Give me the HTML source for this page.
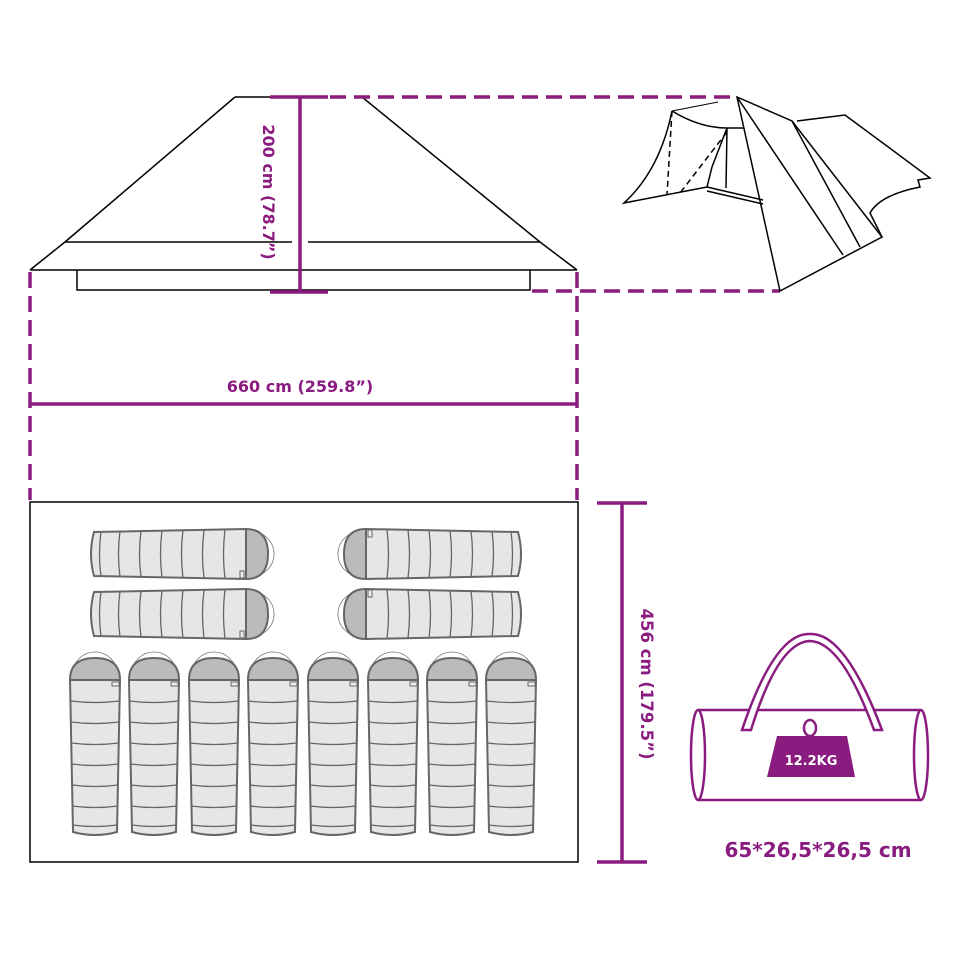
<!DOCTYPE html>
<html><head><meta charset="utf-8"><style>html,body{margin:0;padding:0;background:#fff}svg{display:block}</style></head>
<body>
<svg width="960" height="960" viewBox="0 0 960 960" xmlns="http://www.w3.org/2000/svg">
<defs>
<g id="bag">
  <path d="M3,26 A23,24 0 0 1 49,26" fill="none" stroke="#777" stroke-width="0.8" transform="translate(0,-4)"/>
  <path d="M1,26 Q1,4 26,4 Q51,4 51,26 Z" fill="#bbb" stroke="#666" stroke-width="2"/>
  <path d="M1,26 L4,178 Q26,184 48,178 L51,26 Z" fill="#e6e6e6" stroke="#666" stroke-width="2"/>
  <g fill="none" stroke="#666" stroke-width="1.3">
    <path d="M1.5,47 Q26,50 50.5,47"/><path d="M2,68 Q26,71 50,68"/><path d="M2,89 Q26,92 50,89"/>
    <path d="M2.5,110 Q26,113 49.5,110"/><path d="M3,131 Q26,134 49,131"/><path d="M3,152 Q26,155 49,152"/>
    <path d="M3.5,171 Q26,174 48.5,171"/>
  </g>
  <rect x="43" y="28" width="7" height="4" fill="#eee" stroke="#666" stroke-width="1"/>
</g>
</defs>
<g fill="none" stroke="#000" stroke-width="1.5">
  <path d="M235,97 L270,97 M235,97 L65,242 M362,97 L540,242 M65,242 L292,242 M308,242 L540,242 M65,242 L30,270 M540,242 L577,270 M30,270 L577,270"/>
  <path d="M77,270 L77,290 L530,290 L530,270"/>
  <rect x="30" y="502" width="548" height="360"/>
</g>
<g fill="none" stroke="#8a1b7f" stroke-width="3.5">
  <path d="M300,97 L300,292 M270,97 L328,97 M270,292 L328,292"/>
  <path d="M30,404 L577,404"/>
  <path d="M622,503 L622,862 M597,503 L647,503 M597,862 L647,862"/>
  <g stroke-dasharray="16,8">
    <path d="M330,97 L738,97"/>
    <path d="M532,291 L780,291"/>
    <path d="M30,272 L30,500 M577,272 L577,500"/>
  </g>
</g>
<g font-family="'DejaVu Sans','Liberation Sans',sans-serif" font-weight="bold" fill="#8a1b7f">
  <text x="300" y="392" font-size="16" text-anchor="middle">660 cm (259.8”)</text>
  <text transform="translate(263,192) rotate(90)" font-size="16" text-anchor="middle">200 cm (78.7”)</text>
  <text transform="translate(641,684) rotate(90)" font-size="16.5" text-anchor="middle">456 cm (179.5”)</text>
  <text x="818" y="857" font-size="20" text-anchor="middle">65*26,5*26,5 cm</text>
</g>
<g fill="none" stroke="#000" stroke-width="1.5">
  <path d="M672,111 Q660,170 624,203 L707,187"/>
  <path d="M672,111 L718,102" stroke-width="1"/>
  <path d="M672,111 Q700,128 727,128 L744,128"/>
  <path d="M727,128 L726,188"/>
  <path d="M727,128 L712,167 L707,187"/>
  <path d="M707,187 L763,200 M707,191 L763,204"/>
  <path d="M672,111 L667,195 M727,132 L680,193" stroke-dasharray="6,4"/>
  <path d="M737,97 L780,291 L882,237 L792,121 Z"/>
  <path d="M737,97 L843,255 M792,121 L860,247"/>
  <path d="M797,121 L845,115 L930,178 L918,180 L920,187 Q880,195 870,213 L882,237"/>
</g>
<use href="#bag" transform="translate(272,528) rotate(90)"/>
<use href="#bag" transform="translate(272,588) rotate(90)"/>
<use href="#bag" transform="translate(340,580) rotate(-90)"/>
<use href="#bag" transform="translate(340,640) rotate(-90)"/>
<use href="#bag" transform="translate(69,654)"/>
<use href="#bag" transform="translate(128,654)"/>
<use href="#bag" transform="translate(188,654)"/>
<use href="#bag" transform="translate(247,654)"/>
<use href="#bag" transform="translate(307,654)"/>
<use href="#bag" transform="translate(367,654)"/>
<use href="#bag" transform="translate(426,654)"/>
<use href="#bag" transform="translate(485,654)"/>
<g fill="none" stroke="#8a1b7f" stroke-width="2.5">
  <path d="M698,710 L921,710 M698,800 L921,800"/>
  <ellipse cx="698" cy="755" rx="7" ry="45"/>
  <ellipse cx="921" cy="755" rx="7" ry="45"/>
  <path d="M742,730 Q775,632 810,634 Q845,632 882,730 L874,730 Q842,642 810,641 Q778,642 751,730 Z" fill="#fff"/>
  <ellipse cx="810" cy="728" rx="6" ry="8"/>
</g>
<path d="M777,736 L847,736 L855,777 L767,777 Z" fill="#8a1b7f"/>
<text x="811" y="765" font-family="'DejaVu Sans','Liberation Sans',sans-serif" font-weight="bold" font-size="13" fill="#fff" text-anchor="middle">12.2KG</text>
</svg>
</body></html>
